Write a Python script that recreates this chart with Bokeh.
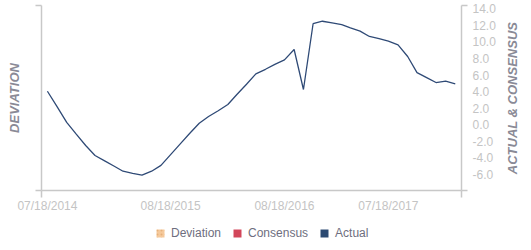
import math
import pandas as pd
from bokeh.plotting import figure
from bokeh.layouts import column, row
from bokeh.models import (Range1d, LinearAxis, FixedTicker, Legend, LegendItem,
                          DatetimeTickFormatter, CustomJSTickFormatter)
from bokeh.embed import file_html
from bokeh.resources import INLINE

# ---- data ----
dates = pd.date_range(start="2014-07-18", periods=44, freq=pd.DateOffset(months=1))
actual = [4.05, 2.2, 0.3, -1.1, -2.5, -3.7, -4.35, -5.0, -5.6, -5.85,
          -6.08, -5.6, -4.9, -3.6, -2.3, -1.05, 0.19, 1.0, 1.7, 2.45,
          3.66, 4.9, 6.15, 6.7, 7.3, 7.84, 9.09, 4.26, 12.2, 12.5,
          12.3, 12.1, 11.7, 11.3, 10.66, 10.4, 10.1, 9.65, 8.24, 6.3,
          5.7, 5.1, 5.26, 4.95]
x_tick_dates = ["2014-07-18", "2015-08-18", "2016-08-18", "2017-07-18"]
y_ticks = [-6, -4, -2, 0, 2, 4, 6, 8, 10, 12, 14]
legend_names = ["Deviation", "Consensus", "Actual"]
legend_colors = ["#f5c99b", "#d2465a", "#2c4a72"]
left_title = "DEVIATION"
right_title = "ACTUAL & CONSENSUS"

x_start = pd.Timestamp("2014-06-29")
x_end = pd.Timestamp("2018-03-10")
y_start, y_end = -7.93, 14.4

def ms(t):
    return pd.Timestamp(t).value / 1e6

FONT = "Liberation Sans"
AXIS_COL = "#c8c8c8"
TICK_COL = "#c4c4c4"
TITLE_COL = "#8a8a96"

MAIN_W, MAIN_H = 501, 215

def bare(fig):
    fig.outline_line_color = None
    fig.xgrid.visible = False
    fig.ygrid.visible = False
    fig.background_fill_color = None

def title_axis(ax, text, standoff):
    ax.axis_label = text
    ax.axis_label_standoff = standoff
    ax.axis_label_text_font = FONT
    ax.axis_label_text_font_size = "13px"
    ax.axis_label_text_font_style = "bold italic"
    ax.axis_label_text_color = TITLE_COL

p = figure(width=MAIN_W, height=MAIN_H, output_backend="svg", toolbar_location=None,
           x_axis_type="datetime", x_axis_location="below", y_axis_location=None,
           x_range=Range1d(ms(x_start), ms(x_end)), y_range=Range1d(y_start, y_end),
           min_border_left=41, min_border_right=40, min_border_top=5, min_border_bottom=25)
bare(p)

# x axis
xa = p.xaxis[0]
xa.ticker = FixedTicker(ticks=[ms(d) for d in x_tick_dates],
                        minor_ticks=[ms(x_start), ms(x_end)])
xa.formatter = DatetimeTickFormatter(days="%m/%d/%Y", months="%m/%d/%Y", years="%m/%d/%Y")
xa.major_tick_out = 0
xa.major_tick_in = 0
xa.minor_tick_out = 7
xa.minor_tick_in = 0
xa.major_label_standoff = 1
xa.major_label_text_font = FONT
xa.major_label_text_font_size = "12px"
xa.major_label_text_color = TICK_COL
xa.axis_line_color = AXIS_COL
xa.axis_line_width = 1.5
xa.minor_tick_line_color = AXIS_COL
xa.minor_tick_line_width = 1.5

# left axis (no tick labels)
la = LinearAxis(ticker=FixedTicker(ticks=[], minor_ticks=[y_start, y_end]))
la.major_tick_out = 0
la.major_tick_in = 0
la.minor_tick_out = 6
la.minor_tick_in = 0
la.major_label_standoff = 0
la.axis_line_color = AXIS_COL
la.axis_line_width = 1.5
la.minor_tick_line_color = AXIS_COL
la.minor_tick_line_width = 1.5
title_axis(la, left_title, 14)
p.add_layout(la, "left")

# right axis
ra = LinearAxis(ticker=FixedTicker(ticks=y_ticks, minor_ticks=[y_start, y_end]))
ra.formatter = CustomJSTickFormatter(code="return tick.toFixed(1);")
ra.major_tick_out = 0
ra.major_tick_in = 0
ra.minor_tick_out = 6
ra.minor_tick_in = 0
ra.major_label_standoff = 5
ra.major_label_text_font = FONT
ra.major_label_text_font_size = "12px"
ra.major_label_text_color = TICK_COL
ra.axis_line_color = AXIS_COL
ra.axis_line_width = 1.5
ra.minor_tick_line_color = AXIS_COL
ra.minor_tick_line_width = 1.5
p.add_layout(ra, "right")

# line
p.line(x=list(dates), y=actual, line_color="#2f4a76", line_width=1.3)

# right title strip: a bare axis whose label reads bottom-to-top
tf = figure(width=30, height=MAIN_H, output_backend="svg", toolbar_location=None,
            x_axis_location=None, y_axis_location=None,
            x_range=Range1d(0, 1), y_range=Range1d(y_start, y_end),
            min_border_left=15, min_border_right=0, min_border_top=5, min_border_bottom=25)
bare(tf)
ta = LinearAxis(ticker=FixedTicker(ticks=[]))
ta.major_tick_out = 0
ta.major_tick_in = 0
ta.minor_tick_out = 0
ta.minor_tick_in = 0
ta.major_label_standoff = 0
ta.axis_line_color = None
title_axis(ta, right_title, 0)
tf.add_layout(ta, "left")

# legend figure
lf = figure(width=531, height=35, output_backend="svg", toolbar_location=None,
            x_axis_location=None, y_axis_location=None,
            x_range=Range1d(0, 1), y_range=Range1d(0, 1),
            min_border_left=0, min_border_right=0, min_border_top=0, min_border_bottom=0)
bare(lf)
nan = float("nan")
items = []
for name, col in zip(legend_names, legend_colors):
    kw = {}
    if name == "Deviation":
        kw = dict(hatch_pattern="dot", hatch_color="#e6b07a", hatch_scale=4, hatch_weight=1)
    r = lf.quad(left=[nan], right=[nan], top=[nan], bottom=[nan],
                fill_color=col, line_color=None, **kw)
    items.append(LegendItem(label=name, renderers=[r]))
legend = Legend(items=items, orientation="horizontal", location=(155, 10),
                glyph_width=10, glyph_height=10, label_standoff=6, spacing=11,
                padding=0, margin=0, border_line_color=None, background_fill_alpha=0,
                label_text_font=FONT, label_text_font_size="12px",
                label_text_color="#6e6e7e", label_height=12)
lf.add_layout(legend, "center")

layout = column(row(p, tf, spacing=0), lf, spacing=0)
open("out.html", "w").write(file_html(layout, INLINE))
